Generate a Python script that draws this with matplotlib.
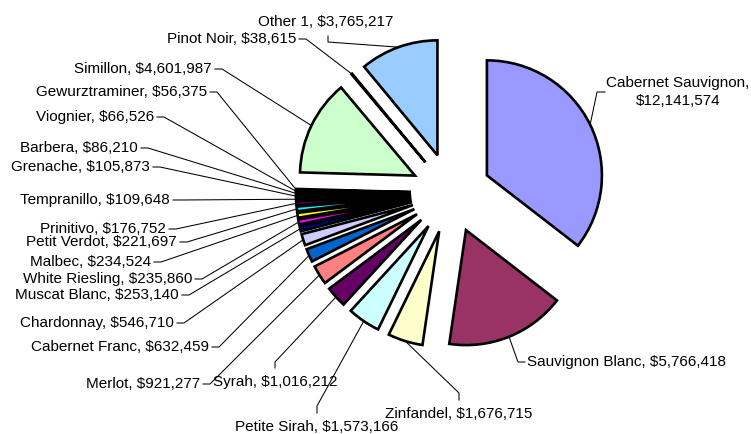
import matplotlib
matplotlib.use("Agg")
import matplotlib.pyplot as plt
import numpy as np

plt.rcParams['font.family'] = ['Liberation Sans', 'DejaVu Sans']

# slices, clockwise from 12 o'clock
varieties = ['Cabernet Sauvignon', 'Sauvignon Blanc', 'Zinfandel', 'Petite Sirah',
             'Syrah', 'Merlot', 'Cabernet Franc', 'Chardonnay', 'Muscat Blanc',
             'White Riesling', 'Malbec', 'Petit Verdot', 'Prinitivo', 'Tempranillo',
             'Grenache', 'Barbera', 'Viognier', 'Gewurztraminer', 'Simillon',
             'Pinot Noir', 'Other 1']
sales = [12141574, 5766418, 1676715, 1573166, 1016212, 921277, 632459, 546710,
         253140, 235860, 234524, 221697, 176752, 109648, 105873, 86210, 66526,
         56375, 4601987, 38615, 3765217]

# excel default series palette
colors = ['#9999FF', '#993366', '#FFFFCC', '#CCFFFF', '#660066', '#FF8080',
          '#0066CC', '#CCCCFF', '#000080', '#FF00FF', '#FFFF00', '#00FFFF',
          '#800080', '#800000', '#008080', '#0000FF', '#00CCFF', '#CCFFFF',
          '#CCFFCC', '#FFFF99', '#99CCFF']

# label placement in pixel coords (x, y, ha)
label_pos = [(678, 92, 'center'), (527, 362, 'left'), (385, 414, 'left'),
             (317, 427, 'center'), (213, 382, 'left'), (200, 384, 'right'),
             (209, 347, 'right'), (174, 323, 'right'), (179, 295, 'right'),
             (192, 279, 'right'), (151, 262, 'right'), (177, 242, 'right'),
             (166, 229, 'right'), (170, 200, 'right'), (150, 167, 'right'),
             (138, 148, 'right'), (154, 117, 'right'), (207, 92, 'right'),
             (212, 69, 'right'), (296, 39, 'right'), (326, 22, 'center')]
# elbow segments that aren't the plain horizontal stub
elbows = {'Cabernet Sauvignon': [(605, 92), (597, 92)],
          'Sauvignon Blanc': [(525, 362), (518, 362)],
          'Zinfandel': [(459, 400), (459, 393)],
          'Petite Sirah': [(317, 413), (317, 406)],
          'Syrah': [(275, 368), (275, 362)],
          'Other 1': [(328, 36), (328, 42)]}
wrap = ['Cabernet Sauvignon']

W, H = 751, 434
fig = plt.figure(figsize=(W / 100, H / 100), dpi=100)
ax = fig.add_axes([0, 0, 1, 1])

radius = 115
# pie's explode is an absolute offset in data units here
wedges, _ = ax.pie(sales, colors=colors, radius=radius, center=(451, 193),
                   explode=[40] * len(sales), startangle=-90, counterclock=True,
                   wedgeprops=dict(edgecolor='black', linewidth=1.9,
                                   joinstyle='miter'))

for i, w in enumerate(wedges):
    name = varieties[i]
    tx, ty, ha = label_pos[i]
    sep = ',\n' if name in wrap else ', '
    ax.text(tx, ty, f'{name}{sep}${sales[i]:,}', ha=ha, va='center',
            fontsize=11, linespacing=1.35, multialignment='center')
    th = np.deg2rad((w.theta1 + w.theta2) / 2)
    cx, cy = w.center
    anchor = (cx + w.r * np.cos(th), cy + w.r * np.sin(th))
    if name in elbows:
        p1, p2 = elbows[name]
    else:
        p1, p2 = (tx + 3, ty), (tx + 10, ty)
    ax.plot([p1[0], p2[0], anchor[0]], [p1[1], p2[1], anchor[1]],
            color='black', linewidth=0.75)

ax.set_xlim(0, W)
ax.set_ylim(H, 0)
ax.set_aspect('equal')
ax.axis('off')

fig.savefig('out.png', dpi=100, facecolor='white')
